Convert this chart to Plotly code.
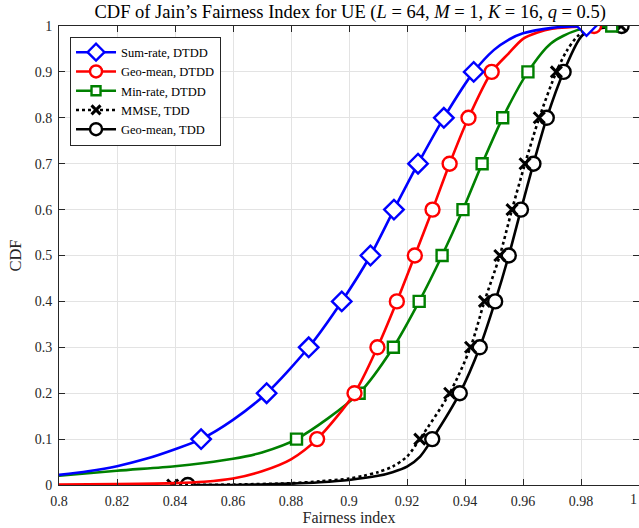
import plotly.graph_objects as go

# ---------------- data ----------------
cdf_levels = [0.1, 0.2, 0.3, 0.4, 0.5, 0.6, 0.7, 0.8, 0.9, 1.0]
cdf_levels0 = [0.0, 0.1, 0.2, 0.3, 0.4, 0.5, 0.6, 0.7, 0.8, 0.9, 1.0]

# Sum-rate, DTDD
sum_curve_x = [0.8, 0.81, 0.82, 0.83, 0.84, 0.849, 0.86, 0.8716, 0.8861, 0.8975, 0.9074,
               0.9155, 0.9238, 0.9327, 0.9430, 0.95, 0.955, 0.96, 0.97, 0.9819]
sum_curve_y = [0.022, 0.030, 0.041, 0.057, 0.078, 0.1, 0.142, 0.2, 0.3, 0.4, 0.5,
               0.6, 0.7, 0.8, 0.9, 0.948, 0.970, 0.984, 0.996, 1.0]
sum_mark_x = [0.8490, 0.8716, 0.8861, 0.8975, 0.9074, 0.9155, 0.9238, 0.9327, 0.9430, 0.9819]

# Geo-mean, DTDD
geo_curve_x = [0.8, 0.82, 0.84, 0.85, 0.86, 0.87, 0.88, 0.8890, 0.9019, 0.9098, 0.9165,
               0.9227, 0.9288, 0.9347, 0.9412, 0.9492, 0.955, 0.96, 0.965, 0.97, 0.9845]
geo_curve_y = [0.001, 0.002, 0.004, 0.007, 0.014, 0.030, 0.056, 0.1, 0.2, 0.3, 0.4,
               0.5, 0.6, 0.7, 0.8, 0.9, 0.940, 0.972, 0.986, 0.994, 1.0]
geo_mark_x = [0.8890, 0.9019, 0.9098, 0.9165, 0.9227, 0.9288, 0.9347, 0.9412, 0.9492, 0.9845]

# Min-rate, DTDD
min_curve_x = [0.8, 0.82, 0.84, 0.85, 0.86, 0.87, 0.8819, 0.9035, 0.9153, 0.9242, 0.9321,
               0.9393, 0.9459, 0.9530, 0.9617, 0.9696, 0.9787, 0.9906]
min_curve_y = [0.020, 0.031, 0.041, 0.048, 0.057, 0.071, 0.1, 0.2, 0.3, 0.4, 0.5,
               0.6, 0.7, 0.8, 0.9, 0.962, 0.991, 1.0]
min_mark_x = [0.8819, 0.9035, 0.9153, 0.9242, 0.9321, 0.9393, 0.9459, 0.9530, 0.9617, 0.9906]

# MMSE, TDD
mmse_curve_x = [0.8392, 0.86, 0.88, 0.89, 0.90, 0.905, 0.91, 0.915, 0.92, 0.9244, 0.9347,
                0.9419, 0.9467, 0.9520, 0.9562, 0.9607, 0.9656, 0.9715, 0.975, 0.9787,
                0.982, 0.9938]
mmse_curve_y = [0.0, 0.001, 0.004, 0.008, 0.014, 0.020, 0.028, 0.040, 0.062, 0.1, 0.2,
                0.3, 0.4, 0.5, 0.6, 0.7, 0.8, 0.9, 0.945, 0.977, 0.991, 1.0]
mmse_mark_x = [0.8392, 0.9244, 0.9347, 0.9419, 0.9467, 0.9520, 0.9562, 0.9607, 0.9656,
               0.9715, 0.9938]

# Geo-mean, TDD
tdd_curve_x = [0.8444, 0.86, 0.88, 0.89, 0.90, 0.91, 0.915, 0.92, 0.9245, 0.9287, 0.9382,
               0.9451, 0.9504, 0.9551, 0.9593, 0.9636, 0.9682, 0.9740, 0.9805, 0.9867,
               0.9940]
tdd_curve_y = [0.0, 0.0, 0.003, 0.006, 0.011, 0.020, 0.028, 0.040, 0.062, 0.1, 0.2,
               0.3, 0.4, 0.5, 0.6, 0.7, 0.8, 0.9, 0.980, 0.995, 1.0]
tdd_mark_x = [0.8444, 0.9287, 0.9382, 0.9451, 0.9504, 0.9551, 0.9593, 0.9636, 0.9682,
              0.9740, 0.9940]

x_ticks = [0.8, 0.82, 0.84, 0.86, 0.88, 0.9, 0.92, 0.94, 0.96, 0.98]
x_ticklabels = ["0.8", "0.82", "0.84", "0.86", "0.88", "0.9", "0.92", "0.94", "0.96", "0.98"]
x_last_tick = 1.0
x_last_label = "1"
y_ticks = [0, 0.1, 0.2, 0.3, 0.4, 0.5, 0.6, 0.7, 0.8, 0.9, 1.0]
y_ticklabels = ["0", "0.1", "0.2", "0.3", "0.4", "0.5", "0.6", "0.7", "0.8", "0.9", "1"]

# ---------------- styling ----------------
FONT = "Liberation Serif"
LW = 2.6

series = [
    dict(name="Sum-rate, DTDD", cx=sum_curve_x, cy=sum_curve_y, mx=sum_mark_x, my=cdf_levels,
         color="#0000ff", dash="solid", symbol="diamond", size=15, mlw=2.4, fill=True),
    dict(name="Geo-mean, DTDD", cx=geo_curve_x, cy=geo_curve_y, mx=geo_mark_x, my=cdf_levels,
         color="#ff0000", dash="solid", symbol="circle", size=14, mlw=2.4, fill=True),
    dict(name="Min-rate, DTDD", cx=min_curve_x, cy=min_curve_y, mx=min_mark_x, my=cdf_levels,
         color="#008000", dash="solid", symbol="square", size=11, mlw=2.4, fill=True),
    dict(name="MMSE, TDD", cx=mmse_curve_x, cy=mmse_curve_y, mx=mmse_mark_x, my=cdf_levels0,
         color="#000000", dash="dot", symbol="x-thin-open", size=11, mlw=3, fill=False),
    dict(name="Geo-mean, TDD", cx=tdd_curve_x, cy=tdd_curve_y, mx=tdd_mark_x, my=cdf_levels0,
         color="#000000", dash="solid", symbol="circle", size=14, mlw=2.4, fill=True),
]

fig = go.Figure()
# drawn in reverse order (the first series ends up on top)
for s in reversed(series):
    fig.add_trace(go.Scatter(x=s["cx"], y=s["cy"], mode="lines", showlegend=False,
                             line=dict(color=s["color"], width=LW, dash=s["dash"],
                                       shape="spline", smoothing=0.8),
                             hoverinfo="skip"))
    fig.add_trace(go.Scatter(x=s["mx"], y=s["my"], mode="markers", showlegend=False,
                             marker=dict(symbol=s["symbol"], size=s["size"],
                                         color="white" if s["fill"] else s["color"],
                                         line=dict(color=s["color"], width=s["mlw"]))))
for s in series:
    fig.add_trace(go.Scatter(x=[None], y=[None], mode="lines+markers", name=s["name"],
                             line=dict(color=s["color"], width=LW, dash=s["dash"]),
                             marker=dict(symbol=s["symbol"], size=s["size"] - 2,
                                         color="white" if s["fill"] else s["color"],
                                         line=dict(color=s["color"], width=s["mlw"]))))

axis_common = dict(showline=True, linecolor="#262626", linewidth=1, mirror="ticks",
                   ticks="inside", ticklen=6, tickcolor="#262626", showgrid=True,
                   gridcolor="#e3e3e3", gridwidth=1, zeroline=False,
                   tickfont=dict(family=FONT, size=14, color="#262626"))

fig.update_layout(
    width=639, height=528,
    margin=dict(l=59, r=0, t=26, b=43),
    paper_bgcolor="white", plot_bgcolor="white",
    title=dict(text="CDF of Jain’s Fairness Index for UE (<i>L</i> = 64, <i>M</i> = 1, <i>K</i> = 16, <i>q</i> = 0.5)",
               x=0.548, xanchor="center", y=0.99, yanchor="top",
               font=dict(family=FONT, size=18.5, color="#000000")),
    xaxis=dict(range=[0.8, 1.0], tickvals=x_ticks + [x_last_tick], ticktext=x_ticklabels + [""],
               ticklabelstandoff=3,
               title=dict(text="Fairness index", font=dict(family=FONT, size=16, color="#262626"),
                          standoff=0),
               **axis_common),
    yaxis=dict(range=[0, 1], tickvals=y_ticks, ticktext=y_ticklabels,
               ticklabelstandoff=3,
               title=dict(text="CDF", font=dict(family=FONT, size=16.5, color="#262626"),
                          standoff=8),
               **axis_common),
    legend=dict(x=0.019, y=0.977, xanchor="left", yanchor="top",
                bgcolor="white", bordercolor="#262626", borderwidth=1,
                font=dict(family=FONT, size=12.5, color="#000000"),
                tracegroupgap=0, itemwidth=40),
    showlegend=True,
    annotations=[dict(x=x_last_tick, y=0, xref="x", yref="y", text=x_last_label,
                      showarrow=False, xanchor="right", yanchor="top", yshift=-5,
                      font=dict(family=FONT, size=14, color="#262626"))],
)

fig.write_html("out.html")
